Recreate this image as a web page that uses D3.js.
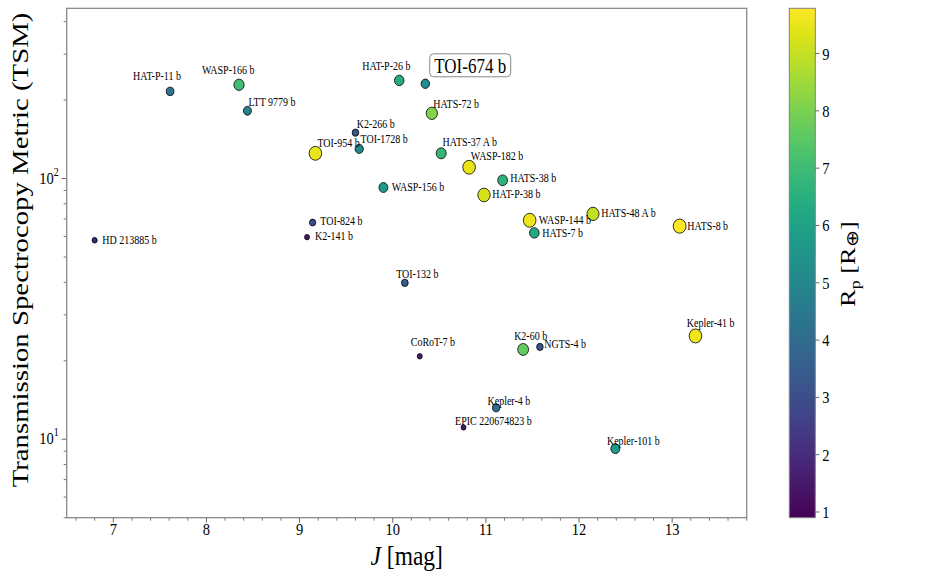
<!DOCTYPE html>
<html><head><meta charset="utf-8">
<script src="https://cdn.jsdelivr.net/npm/d3@7"></script>
<style>
body{margin:0;background:#fff}
svg{display:block}
text{font-family:"Liberation Serif","Times New Roman",serif;fill:#000}
</style>
</head><body>
<svg id="c" width="926" height="579"></svg>
<script>
// ---------------- data ----------------
const planets = ["HAT-P-11 b","WASP-166 b","LTT 9779 b","K2-266 b","TOI-1728 b","TOI-954 b","WASP-156 b","TOI-824 b","K2-141 b","HD 213885 b",
  "HAT-P-26 b","TOI-674 b","HATS-72 b","HATS-37 A b","WASP-182 b","HATS-38 b","HAT-P-38 b","WASP-144 b","HATS-48 A b","HATS-7 b",
  "HATS-8 b","TOI-132 b","CoRoT-7 b","K2-60 b","NGTS-4 b","Kepler-41 b","Kepler-4 b","EPIC 220674823 b","Kepler-101 b"];
const jMag = [7.61,8.35,8.44,9.60,9.64,9.17,9.90,9.14,9.08,6.80,
  10.07,10.35,10.42,10.52,10.82,11.18,10.98,11.47,12.15,11.52,
  13.08,10.13,10.29,11.40,11.58,13.25,11.11,10.76,12.39];
const tsmValues = [216,229,182,150,130,125,92.4,67.8,59.6,58.0,
  238,231,178,125,110.5,98.5,86.5,69.2,73.2,61.9,
  65.7,39.8,20.8,22.1,22.6,24.9,13.2,11.1,9.2];
const radiusRp = [4.36,7.06,4.72,3.30,5.05,9.50,5.72,2.93,1.51,1.74,
  6.33,5.25,8.10,6.80,9.50,6.60,9.25,9.55,8.95,6.30,
  9.79,3.42,1.58,7.66,3.18,9.60,4.00,1.52,5.77];
const xTickValues = [7,8,9,10,11,12,13];
const yTickExponents = [1,2];
const cbTickValues = [1,2,3,4,5,6,7,8,9];

// label placement (pixel offsets of text start / text middle from the marker)
const labelDx = [-37,-37,1,1.2,1.3,2,8.3,7.7,8,7.7,
  -37,0,1.4,1.4,1.7,7.7,8.3,9,8.3,8,
  7.7,-8.7,-9,-9,4.3,-8.7,-8.6,-8.4,-8.4];
const labelDy = [-16,-15,-8.7,-9.3,-10.7,-11,-1,-1.6,-1,-0.7,
  -15,0,-9.4,-11.4,-11.7,-2.3,-1.4,-1,-1,-0.7,
  -0.7,-9.4,-15,-14.3,-3.4,-13.4,-6.7,-7,-7.7];
const highlighted = "TOI-674 b";

// ---------------- layout ----------------
const S = 1.2; // vertical stretch of glyphs in the reference
const plot = {l:66.7, r:746.7, t:8.3, b:517.7};
const cb = {l:789.3, r:815.3, t:8.3, b:517.7};
const frameColor = "#808080";

const svg = d3.select("#c");
const x = d3.scaleLinear().domain([6.5,13.8]).range([plot.l, plot.r]);
const y = d3.scaleLog().domain([5,450]).range([plot.b, plot.t]);
const cDomain = [0.9,9.79];
const color = d3.scaleSequential(d3.interpolateViridis).domain(cDomain);
const rScale = d3.scaleLinear().domain([1,9.5]).range([2.2,6.3]);
const cy = d3.scaleLinear().domain(cDomain).range([cb.b, cb.t]);

function txt(parent, px, py, size, anchor, baseline){
  const g = parent.append("g").attr("transform",`translate(${px},${py}) scale(1,${S})`);
  return g.append("text").attr("font-size",size).attr("text-anchor",anchor||"start")
    .attr("dominant-baseline",baseline||"auto");
}

// ---------------- axes ----------------
const axG = svg.append("g");
const xMinor = d3.range(6.6,13.81,0.2).filter(v=>Math.abs(v-Math.round(v))>1e-6);
axG.selectAll(".xmin").data(xMinor).join("line")
  .attr("x1",d=>x(d)).attr("x2",d=>x(d)).attr("y1",plot.b).attr("y2",plot.b+3)
  .attr("stroke","#555").attr("stroke-width",0.8);
axG.selectAll(".xmaj").data(xTickValues).join("line")
  .attr("x1",d=>x(d)).attr("x2",d=>x(d)).attr("y1",plot.b).attr("y2",plot.b+5)
  .attr("stroke","#555").attr("stroke-width",0.9);
xTickValues.forEach(v=>{ txt(axG, x(v), plot.b+17.5, 14.5, "middle").text(v); });

const yMinor = [];
[1,10,100].forEach(dec=>{ for(let k=2;k<=9;k++){ const v=k*dec; if(v>=5 && v<=450) yMinor.push(v);} });
axG.selectAll(".ymin").data(yMinor).join("line")
  .attr("x1",plot.l-3).attr("x2",plot.l).attr("y1",d=>y(d)).attr("y2",d=>y(d))
  .attr("stroke","#555").attr("stroke-width",0.8);
axG.selectAll(".ymaj").data(yTickExponents).join("line")
  .attr("x1",plot.l-5).attr("x2",plot.l).attr("y1",d=>y(Math.pow(10,d))).attr("y2",d=>y(Math.pow(10,d)))
  .attr("stroke","#555").attr("stroke-width",0.9);
yTickExponents.forEach(e=>{
  const t = txt(axG, plot.l-8, y(Math.pow(10,e))+5, 14.5, "end");
  t.append("tspan").text("10");
  t.append("tspan").attr("font-size",10).attr("dy",-6.5).text(e);
});

svg.append("rect").attr("x",plot.l).attr("y",plot.t).attr("width",plot.r-plot.l).attr("height",plot.b-plot.t)
  .attr("fill","none").attr("stroke",frameColor).attr("stroke-width",1.2);

// axis titles
const xl = txt(svg, (plot.l+plot.r)/2, 565, 23.5, "middle");
xl.append("tspan").attr("font-style","italic").text("J");
xl.append("tspan").text(" [mag]");

svg.append("g").attr("transform",`translate(27.5,250) scale(1,${S}) rotate(-90)`)
  .append("text").attr("font-size",24).attr("text-anchor","middle")
  .text("Transmission Spectrocopy Metric (TSM)");

// ---------------- points ----------------
const idx = d3.range(planets.length);
const ptG = svg.append("g");
ptG.selectAll("ellipse").data(idx).join("ellipse")
  .attr("cx",i=>x(jMag[i])).attr("cy",i=>y(tsmValues[i]))
  .attr("rx",i=>rScale(radiusRp[i])).attr("ry",i=>rScale(radiusRp[i])*1.1)
  .attr("fill",i=>color(radiusRp[i])).attr("stroke","#000").attr("stroke-width",0.8);

const lbG = svg.append("g");
idx.forEach(i=>{
  if(planets[i]===highlighted) return;
  txt(lbG, x(jMag[i])+labelDx[i], y(tsmValues[i])+labelDy[i], 10, "start", "central").text(planets[i]);
});

(function(){
  const i = planets.indexOf(highlighted);
  const px = x(jMag[i]), py = y(tsmValues[i]);
  const bx = px+4.4, by = py-30, bw = 81, bh = 23;
  lbG.append("rect").attr("x",bx).attr("y",by).attr("width",bw).attr("height",bh)
    .attr("rx",4).attr("ry",4).attr("fill","#fff").attr("stroke","#888").attr("stroke-width",1);
  txt(lbG, bx+bw/2, by+bh/2+0.5, 17, "middle", "central").text(highlighted);
})();

// ---------------- colorbar ----------------
const defs = svg.append("defs");
const grad = defs.append("linearGradient").attr("id","vir").attr("x1",0).attr("x2",0).attr("y1",1).attr("y2",0);
d3.range(0,1.0001,0.05).forEach(t=>{
  grad.append("stop").attr("offset",t).attr("stop-color",d3.interpolateViridis(t));
});
svg.append("rect").attr("x",cb.l).attr("y",cb.t).attr("width",cb.r-cb.l).attr("height",cb.b-cb.t)
  .attr("fill","url(#vir)").attr("stroke",frameColor).attr("stroke-width",1);
const cbG = svg.append("g");
cbG.selectAll("line").data(cbTickValues).join("line")
  .attr("x1",cb.r).attr("x2",cb.r+4).attr("y1",d=>cy(d)).attr("y2",d=>cy(d))
  .attr("stroke","#555").attr("stroke-width",0.9);
cbTickValues.forEach(v=>{ txt(cbG, cb.r+7, cy(v), 14.5, "start", "central").text(v); });

const cl = svg.append("g").attr("transform",`translate(855,264) scale(1,${S}) rotate(-90)`)
  .append("text").attr("font-size",22).attr("text-anchor","middle");
cl.append("tspan").text("R");
cl.append("tspan").attr("font-size",15).attr("dy",5).text("p");
cl.append("tspan").attr("dy",-5).text(" [R");
cl.append("tspan").attr("font-size",17).attr("dy",3).text("\u2295");
cl.append("tspan").attr("dy",-3).text("]");
</script>
</body></html>
